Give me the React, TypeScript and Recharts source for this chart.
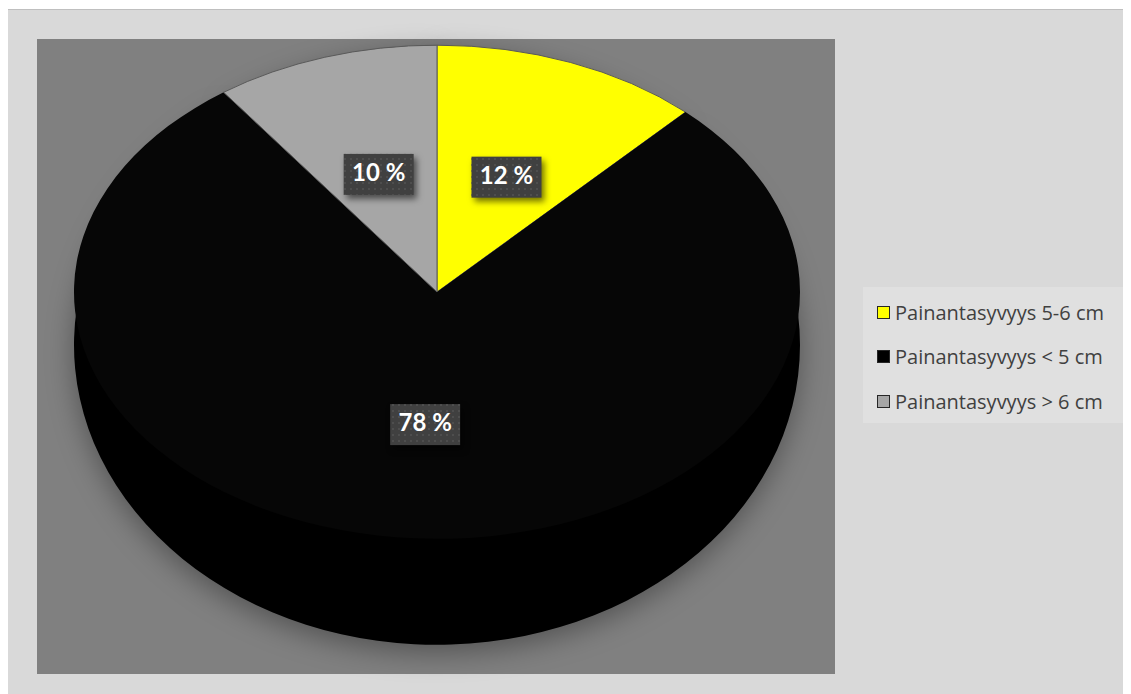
import React from 'react';
import { PieChart, Pie, Cell, Legend } from 'recharts';

const categories = ['Painantasyvyys 5-6 cm', 'Painantasyvyys < 5 cm', 'Painantasyvyys > 6 cm'];
const shares = [12, 78, 10];
const sliceColors = ['#ffff00', '#060606', '#a6a6a6'];
const legendColors = ['#ffff00', '#000000', '#a6a6a6'];

const pieData = categories.map((name, i) => ({ name, value: shares[i] }));

const RAD = Math.PI / 180;
const TOP_SQUASH = 0.68;
const BASE_SQUASH = 0.826;
const FONT = 'Lato, "Open Sans", sans-serif';
const LEGEND_FONT = '"Open Sans", sans-serif';

// sector drawn on an ellipse so the pie looks tilted
const ellipseSector = (k: number, shadow: boolean) => (props: any) => {
  const { cx, cy, outerRadius: r, startAngle, endAngle, fill, stroke, strokeWidth } = props;
  const x0 = cx + r * Math.cos(startAngle * RAD);
  const y0 = cy - k * r * Math.sin(startAngle * RAD);
  const x1 = cx + r * Math.cos(endAngle * RAD);
  const y1 = cy - k * r * Math.sin(endAngle * RAD);
  const large = Math.abs(endAngle - startAngle) > 180 ? 1 : 0;
  const d = `M${cx},${cy} L${x0},${y0} A${r},${k * r} 0 ${large} 1 ${x1},${y1} Z`;
  return (
    <path
      d={d}
      fill={fill}
      stroke={stroke}
      strokeWidth={strokeWidth}
      style={shadow ? { filter: 'drop-shadow(0px 8px 14px rgba(0,0,0,0.35))' } : undefined}
    />
  );
};

const topShape = ellipseSector(TOP_SQUASH, false);
const baseShape = ellipseSector(BASE_SQUASH, true);

const renderLabel = (p: any) => {
  const { cx, cy, midAngle, outerRadius, value, index } = p;
  const r = outerRadius * 0.52;
  const x = cx + r * Math.cos(-midAngle * RAD);
  const y = cy + r * Math.sin(-midAngle * RAD) * TOP_SQUASH + 4;
  return (
    <g key={`lbl-${index}`}>
      <rect x={x - 35} y={y - 20} width={70} height={41} fill="#404040"
        style={{ filter: 'drop-shadow(3px 4px 3px rgba(0,0,0,0.55))' }} />
      <rect x={x - 35} y={y - 20} width={70} height={41} fill="url(#dotPattern)" />
      <text x={x} y={y + 1} textAnchor="middle" dominantBaseline="middle" fill="#ffffff"
        fontFamily={FONT} fontWeight={700} fontSize={24}>
        {`${value} %`}
      </text>
    </g>
  );
};

const LegendBox = () => (
  <div style={{ background: '#e0e0e0', width: 262, height: 136, boxSizing: 'border-box', paddingTop: 3, paddingLeft: 14 }}>
    {categories.map((name, i) => (
      <div key={name} style={{ display: 'flex', alignItems: 'center', height: 44.5, fontFamily: LEGEND_FONT, fontSize: 20, color: '#404040', whiteSpace: 'nowrap' }}>
        <span style={{ display: 'inline-block', flex: 'none', width: 11, height: 11, background: legendColors[i], border: '1.5px solid #262626', marginRight: 5 }} />
        {name}
      </div>
    ))}
  </div>
);

export default function App() {
  return (
    <div style={{ position: 'relative', width: 1123, height: 686 }}>
      <div style={{ position: 'absolute', left: -1, top: 1, width: 1140, height: 700, background: '#d9d9d9', border: '1px solid #bfbfbf' }} />
      <div style={{ position: 'absolute', left: 29, top: 31, width: 798, height: 635, background: '#808080' }} />
      <div style={{ position: 'absolute', left: -8, top: -8 }}>
        <PieChart width={1131} height={694} margin={{ top: 0, right: 0, bottom: 0, left: 0 }}>
          <defs>
            <pattern id="dotPattern" width="6" height="6" patternUnits="userSpaceOnUse">
              <rect x="2" y="2" width="2" height="2" fill="#4e4e4e" />
            </pattern>
          </defs>
          <Pie
            data={pieData}
            dataKey="value"
            nameKey="name"
            cx={437}
            cy={345}
            outerRadius={363}
            startAngle={90}
            endAngle={-270}
            stroke="none"
            legendType="none"
            shape={baseShape}
            activeShape={baseShape}
            inactiveShape={baseShape}
            isAnimationActive={false}
          >
            {pieData.map((_, i) => (
              <Cell key={`base-${i}`} fill="#000000" />
            ))}
          </Pie>
          <Pie
            data={pieData}
            dataKey="value"
            nameKey="name"
            cx={437}
            cy={292}
            outerRadius={363}
            startAngle={90}
            endAngle={-270}
            strokeWidth={1}
            shape={topShape}
            activeShape={topShape}
            inactiveShape={topShape}
            label={renderLabel}
            labelLine={false}
            isAnimationActive={false}
          >
            {pieData.map((_, i) => (
              <Cell key={`top-${i}`} fill={sliceColors[i]} stroke={i === 1 ? 'none' : '#5a5a5a'} />
            ))}
          </Pie>
          <Legend
            layout="vertical"
            content={<LegendBox />}
            wrapperStyle={{ position: 'absolute', left: 863, top: 287, width: 262, height: 136, right: 'auto', bottom: 'auto' }}
          />
        </PieChart>
      </div>
    </div>
  );
}
